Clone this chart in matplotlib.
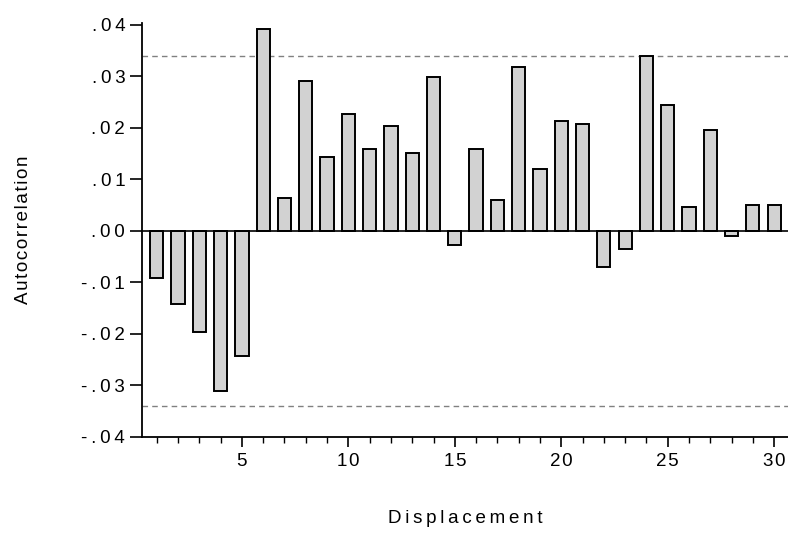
import matplotlib
matplotlib.use("Agg")
import matplotlib.pyplot as plt
from matplotlib.ticker import FixedLocator, MultipleLocator

lags = list(range(1, 31))
acf = [-0.0092, -0.0143, -0.0197, -0.0311, -0.0244,
       0.0391, 0.0063, 0.0291, 0.0143, 0.0227,
       0.0158, 0.0203, 0.0150, 0.0298, -0.0028,
       0.0158, 0.0060, 0.0318, 0.0120, 0.0214,
       0.0207, -0.0071, -0.0035, 0.0339, 0.0245,
       0.0046, 0.0196, -0.0011, 0.0050, 0.0050]
conf_band = 0.034
y_ticks = [-0.04, -0.03, -0.02, -0.01, 0.0, 0.01, 0.02, 0.03, 0.04]
y_labels = ["-.04", "-.03", "-.02", "-.01", ".00", ".01", ".02", ".03", ".04"]
x_ticks = [5, 10, 15, 20, 25, 30]
x_labels = ["5", "10", "15", "20", "25", "30"]
x_title = "Displacement"
y_title = "Autocorrelation"


def spaced(s, sep):
    return sep.join(s)


plt.rcParams['font.family'] = ['Liberation Sans', 'DejaVu Sans']

fig = plt.figure(figsize=(7.88, 5.38), dpi=100)
ax = fig.add_axes([0.180, 0.1883, 0.820, 0.7695])

ax.bar(lags, acf, width=0.62, color="#d2d2d2", edgecolor="black", linewidth=1.4, zorder=2)
ax.axhline(0, color="black", linewidth=1.2, zorder=3)
ax.axhline(conf_band, color="#808080", linestyle=(0, (4, 3)), linewidth=1.0, zorder=1)
ax.axhline(-conf_band, color="#808080", linestyle=(0, (4, 3)), linewidth=1.0, zorder=1)

ax.set_xlim(0.3, 30.65)
ax.set_ylim(-0.04, 0.0404)

ax.spines['top'].set_visible(False)
ax.spines['right'].set_visible(False)
ax.spines['left'].set_linewidth(1.3)
ax.spines['bottom'].set_linewidth(1.3)

ax.yaxis.set_major_locator(FixedLocator(y_ticks))
ax.set_yticklabels([spaced(s, "\u2009") for s in y_labels])
ax.xaxis.set_major_locator(FixedLocator(x_ticks))
ax.set_xticklabels([spaced(s, "\u200a") for s in x_labels])
ax.xaxis.set_minor_locator(MultipleLocator(1))
ax.tick_params(axis='y', which='major', length=9, width=1.2, labelsize=13.5, pad=3)
ax.tick_params(axis='x', which='major', length=7, width=1.2, labelsize=13.5, pad=5)
ax.tick_params(axis='x', which='minor', length=4, width=1.0)

ax.set_xlabel(spaced(x_title, "\u2009"), fontsize=13.5)
ax.set_ylabel(spaced(y_title, "\u200a"), fontsize=13.5)
ax.xaxis.set_label_coords(0.5, -0.178)
ax.yaxis.set_label_coords(-0.170, 0.5)

fig.savefig("out.png", dpi=100)
